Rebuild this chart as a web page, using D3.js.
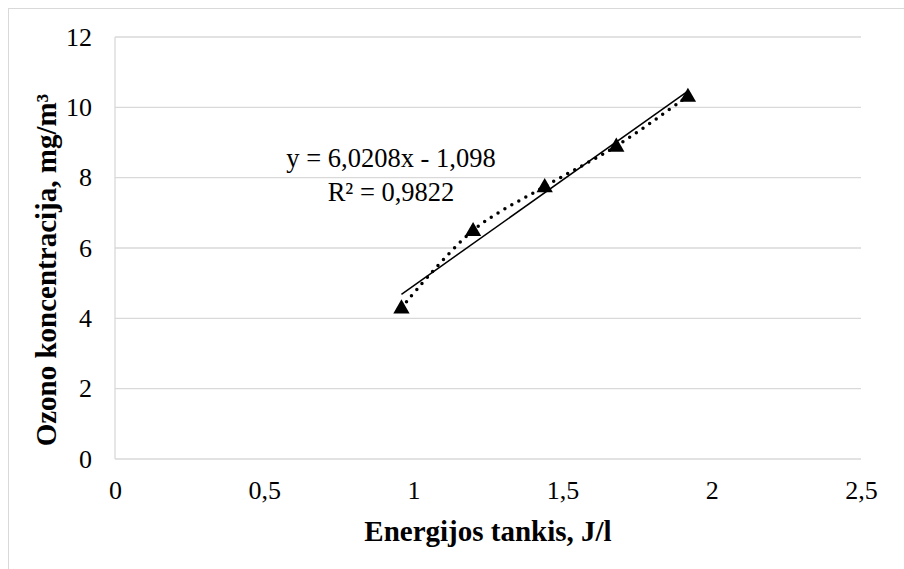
<!DOCTYPE html>
<html>
<head>
<meta charset="utf-8">
<script src="https://cdn.jsdelivr.net/npm/d3@7/dist/d3.min.js"></script>
<style>
  body { margin: 0; background: #fff; }
  svg { display: block; }
</style>
</head>
<body>
<div id="chart"></div>
<script>
'use strict';

/* data */
var energy = [0.96, 1.2, 1.44, 1.68, 1.92];
var ozone = [4.3, 6.5, 7.75, 8.9, 10.32];
var xTicks = [0, 0.5, 1, 1.5, 2, 2.5];
var yTicks = [0, 2, 4, 6, 8, 10, 12];
var trendSlope = 6.0208, trendIntercept = -1.098;
var trendLabel = ['y = 6,0208x - 1,098', 'R² = 0,9822'];

var FONT = '"Liberation Serif", "Times New Roman", serif';
var width = 904, height = 569;
var svg = d3.select('#chart').append('svg')
  .attr('width', width)
  .attr('height', height);

// chart area border (runs off the picture at right and bottom)
svg.append('rect')
  .attr('x', 8.5).attr('y', 8.5)
  .attr('width', 1000).attr('height', 1000)
  .attr('fill', 'none')
  .attr('stroke', '#d9d9d9');

var x = d3.scaleLinear().domain([0, 2.5]).range([115, 861]);
var y = d3.scaleLinear().domain([0, 12]).range([459, 37]);
var comma = function(d) { return String(d).replace('.', ','); };

// gridlines
svg.append('g').selectAll('line').data(yTicks).enter().append('line')
  .attr('x1', x(0)).attr('x2', x(2.5))
  .attr('y1', function(d) { return y(d); })
  .attr('y2', function(d) { return y(d); })
  .attr('stroke', '#d9d9d9').attr('stroke-width', 1.3);

svg.append('line')
  .attr('x1', x(0)).attr('x2', x(0))
  .attr('y1', y(0)).attr('y2', y(12))
  .attr('stroke', '#d9d9d9').attr('stroke-width', 1.3);

// axes, lines hidden, only the labels
var yAxis = svg.append('g')
  .attr('transform', 'translate(' + (x(0) - 23) + ',0)')
  .call(d3.axisLeft(y).tickValues(yTicks).tickSize(0).tickPadding(0).tickFormat(comma));
var xAxis = svg.append('g')
  .attr('transform', 'translate(0,' + (y(0) + 22) + ')')
  .call(d3.axisBottom(x).tickValues(xTicks).tickSize(0).tickPadding(0).tickFormat(comma));
[yAxis, xAxis].forEach(function(a) {
  a.attr('font-family', null).attr('font-size', null);
  a.select('.domain').remove();
  a.selectAll('text')
    .attr('fill', '#000')
    .attr('font-family', FONT)
    .attr('font-size', 26);
});
xAxis.selectAll('text').attr('dy', '0.71em').attr('y', 0);

// points joined by a dotted smoothed line
var pts = energy.map(function(e, i) { return [e, ozone[i]]; });
svg.append('path')
  .datum(pts)
  .attr('fill', 'none')
  .attr('stroke', '#000')
  .attr('stroke-width', 3.5)
  .attr('stroke-linecap', 'round')
  .attr('stroke-dasharray', '0 8')
  .attr('d', d3.line()
    .x(function(d) { return x(d[0]); })
    .y(function(d) { return y(d[1]); })
    .curve(d3.curveCatmullRom));

// linear trendline
var xr = d3.extent(energy);
svg.append('line')
  .attr('x1', x(xr[0])).attr('y1', y(trendSlope * xr[0] + trendIntercept))
  .attr('x2', x(xr[1])).attr('y2', y(trendSlope * xr[1] + trendIntercept))
  .attr('stroke', '#000').attr('stroke-width', 1.5);

svg.append('g').selectAll('path').data(pts).enter().append('path')
  .attr('transform', function(d) { return 'translate(' + x(d[0]) + ',' + (y(d[1]) + 1) + ')'; })
  .attr('d', d3.symbol(d3.symbolTriangle, 115))
  .attr('fill', '#000');

// trendline equation
svg.append('g').selectAll('text').data(trendLabel).enter().append('text')
  .attr('x', 391)
  .attr('y', function(d, i) { return 167 + i * 34; })
  .attr('text-anchor', 'middle')
  .attr('font-family', FONT)
  .attr('font-size', 26.5)
  .text(function(d) { return d; });

// axis titles
svg.append('text')
  .attr('x', 488).attr('y', 541)
  .attr('text-anchor', 'middle')
  .attr('font-family', FONT)
  .attr('font-size', 29).attr('font-weight', 'bold')
  .text('Energijos tankis, J/l');

svg.append('text')
  .attr('transform', 'translate(56,270) rotate(-90)')
  .attr('text-anchor', 'middle')
  .attr('font-family', FONT)
  .attr('font-size', 29).attr('font-weight', 'bold')
  .text('Ozono koncentracija, mg/m³');
</script>
</body>
</html>
